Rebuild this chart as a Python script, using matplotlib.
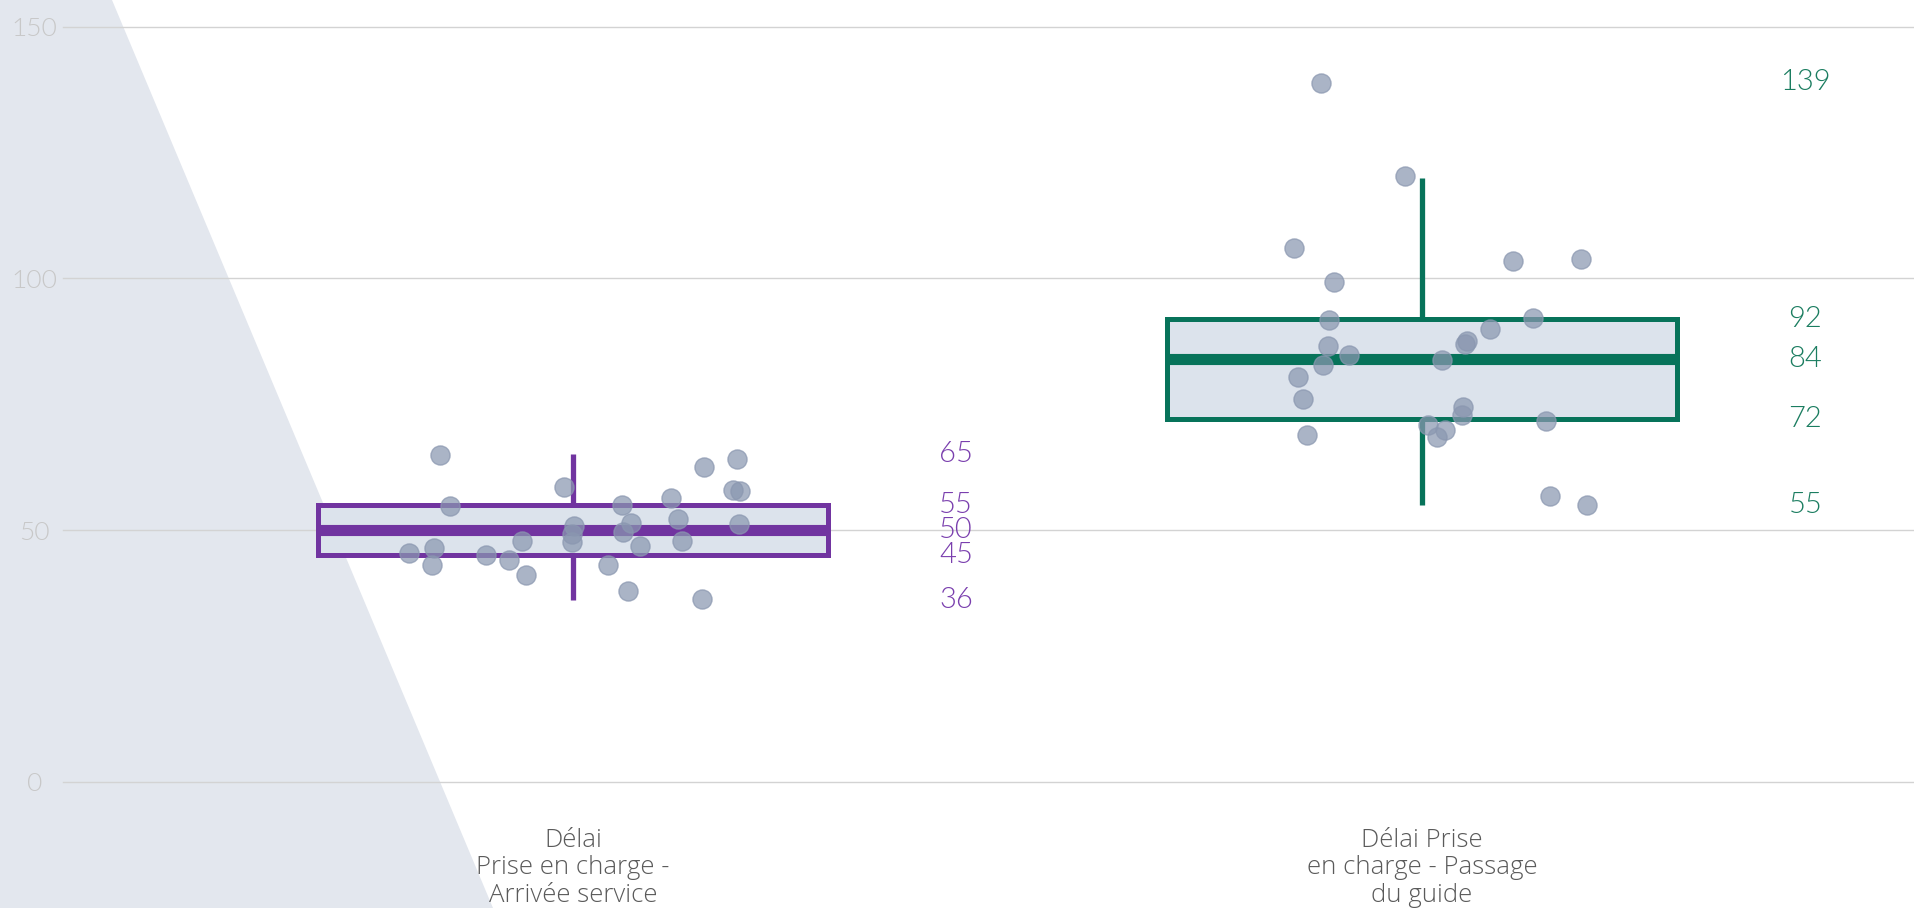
import matplotlib
matplotlib.use("Agg")
import matplotlib.pyplot as plt
from matplotlib.patches import Polygon
import numpy as np

# ---------------- data ----------------
categories = ["Délai\nPrise en charge -\nArrivée service",
              "Délai Prise\nen charge - Passage\ndu guide"]

values_1 = [64.9, 54.8, 45.4, 46.5, 43.0, 45.1, 44.1, 47.9, 41.0, 58.6,
            50.8, 49.3, 47.7, 43.0, 54.9, 51.4, 49.7, 46.9, 37.9, 56.4,
            52.1, 47.8, 62.5, 36.2, 64.2, 57.9, 57.7, 51.2]
jitter_1 = [-0.156, -0.145, -0.193, -0.164, -0.166, -0.102, -0.075, -0.060,
            -0.055, -0.010, 0.001, -0.001, -0.001, 0.041, 0.058, 0.068,
            0.059, 0.079, 0.065, 0.116, 0.124, 0.128, 0.154, 0.152,
            0.193, 0.188, 0.197, 0.196]

values_2 = [138.8, 120.3, 106.0, 99.3, 103.5, 103.8, 91.7, 92.1, 89.9, 87.6,
            87.0, 86.5, 84.7, 82.8, 83.8, 80.4, 76.0, 74.5, 72.8, 71.7,
            70.8, 69.9, 68.4, 68.9, 56.8, 54.9]
jitter_2 = [-0.119, -0.020, -0.151, -0.104, 0.107, 0.187, -0.109, 0.131,
            0.080, 0.053, 0.051, -0.111, -0.086, -0.117, 0.024, -0.146,
            -0.140, 0.048, 0.047, 0.146, 0.007, 0.027, 0.018, -0.135,
            0.151, 0.194]

box_q1 = [45, 72]
box_median = [50, 84]
box_q3 = [55, 92]
whisker_low = [36, 55]
whisker_high = [65, 120]

labels_1 = [65, 55, 50, 45, 36]
labels_2 = [139, 92, 84, 72, 55]

y_ticks = [0, 50, 100, 150]

# ---------------- style ----------------
W, H = 1914, 908
DPI = 100
box_colors = ["#7134a0", "#07735a"]
text_colors = ["#7a3fae", "#1b7d60"]
box_fill = "#dce3ec"
point_color = "#8a97b0"
bg_poly = "#e3e7ee"
FONT = ["Lato", "DejaVu Sans"]
CAT_FONT = ["Open Sans", "Lato", "DejaVu Sans"]
WEIGHT = 300

plt.rcParams["font.family"] = FONT

fig = plt.figure(figsize=(W / DPI, H / DPI), dpi=DPI)
fig.patch.set_facecolor("white")

# background slanted shape
poly = Polygon([(0, 1), (112 / W, 1), (493 / W, 0), (0, 0)], closed=True,
               transform=fig.transFigure, facecolor=bg_poly, edgecolor="none",
               zorder=-10)
fig.patches.append(poly)

left = 63.5 / W
bottom = (H - 781.7) / H
top = (H - 26.6) / H
ax = fig.add_axes([left, bottom, 1 - left, top - bottom])
ax.set_facecolor("none")
ax.set_zorder(1)

positions = [0, 1]
stats = []
for i in range(2):
    stats.append(dict(med=box_median[i], q1=box_q1[i], q3=box_q3[i],
                      whislo=whisker_low[i], whishi=whisker_high[i], fliers=[]))

res = ax.bxp(stats, positions=positions, widths=0.6, patch_artist=True,
             showcaps=False, showfliers=False,
             boxprops=dict(linewidth=3.6, facecolor=box_fill),
             medianprops=dict(linewidth=8),
             whiskerprops=dict(linewidth=3.8),
             zorder=2)
for i, c in enumerate(box_colors):
    res["boxes"][i].set_edgecolor(c)
    res["medians"][i].set_color(c)
    res["medians"][i].set_solid_capstyle("butt")
    for w in res["whiskers"][2 * i:2 * i + 2]:
        w.set_color(c)
        w.set_solid_capstyle("butt")

# jittered points
for pos, vals, jit in [(0, values_1, jitter_1), (1, values_2, jitter_2)]:
    xs = pos + np.asarray(jit)
    ax.scatter(xs, vals, s=190, color=point_color, alpha=0.72,
               edgecolors=point_color, linewidths=1.0, zorder=4)

# value labels
for pos, labs, col in [(0, labels_1, text_colors[0]), (1, labels_2, text_colors[1])]:
    for v in labs:
        ax.text(pos + 0.4515, v, f"{v}", ha="center", va="center",
                fontsize=21, color=col, fontweight=WEIGHT, zorder=5)

ax.set_xlim(-0.6, 1.5795)
ax.set_ylim(0, 150)
ax.set_yticks(y_ticks)
ax.set_yticklabels([str(t) for t in y_ticks])
ax.set_xticks(positions)
ax.set_xticklabels(categories)
ax.tick_params(axis="y", length=0, pad=21, labelsize=19, labelcolor="#c8c8c8")
ax.tick_params(axis="x", length=0, pad=33, labelsize=18.5, labelcolor="#5a5a5a")
for lab in ax.get_yticklabels():
    lab.set_horizontalalignment("center")
    lab.set_fontweight(WEIGHT)
for lab in ax.get_xticklabels():
    lab.set_family(CAT_FONT)
    lab.set_fontweight(WEIGHT)
    lab.set_linespacing(1.15)

ax.yaxis.grid(True, color="#d3d3d3", linewidth=1.0)
for gl in ax.yaxis.get_gridlines():
    gl.set_clip_on(False)
ax.set_axisbelow(True)
for s in ax.spines.values():
    s.set_visible(False)

fig.savefig("out.png", dpi=DPI, facecolor="white")
